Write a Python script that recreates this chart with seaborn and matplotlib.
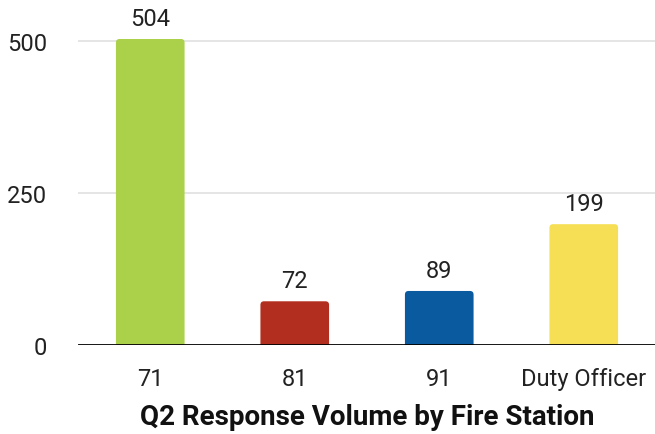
import matplotlib
matplotlib.use("Agg")
import matplotlib.pyplot as plt
import seaborn as sns
from matplotlib.patches import FancyBboxPatch

stations = ["71", "81", "91", "Duty Officer"]
responses = [504, 72, 89, 199]
bar_colors = ["#abd04a", "#b22e1e", "#0a5aa0", "#f7df55"]

sns.set_theme(style="white")
plt.rcParams["font.family"] = ["Roboto", "DejaVu Sans"]

fig = plt.figure(figsize=(6.55, 4.35), dpi=100)
ax = fig.add_axes([78 / 655, (435 - 346) / 435, 578 / 655, 340 / 435])

sns.barplot(x=stations, y=responses, hue=stations, palette=bar_colors,
            width=0.475, legend=False, ax=ax, saturation=1)

ax.set_ylim(0, 560)
ax.set_xlim(-0.5, 3.5)

# round the bar corners
px_x = 144.5
px_y = 304 / 500
aspect = (1 / px_y) / (1 / px_x)
for p in list(ax.patches):
    x0, w, h = p.get_x(), p.get_width(), p.get_height()
    r = FancyBboxPatch((x0, -5), w, h + 5,
                       boxstyle="round,pad=0,rounding_size=0.025",
                       mutation_aspect=aspect,
                       facecolor=p.get_facecolor(), edgecolor="none",
                       zorder=2)
    ax.add_patch(r)
    ax.text(x0 + w / 2, h + 15, str(int(h)), ha="center", va="bottom",
            fontsize=17, color="#222222")
    p.remove()

ax.set_yticks([0, 250, 500])
ax.tick_params(axis="y", length=0, pad=22, labelsize=17, labelcolor="#222222")
ax.tick_params(axis="x", length=0, pad=16, labelsize=17, labelcolor="#222222")
for yv in [250, 500]:
    ax.axhline(yv, color="#e0e0e0", lw=1.2, zorder=0)
ax.axhline(0, color="black", lw=2, zorder=3)
for s in ax.spines.values():
    s.set_visible(False)

ax.set_xlabel("Q2 Response Volume by Fire Station", fontsize=20,
              fontweight="bold", labelpad=9, color="#111111")
ax.set_ylabel("")

fig.savefig("out.png", dpi=100)
